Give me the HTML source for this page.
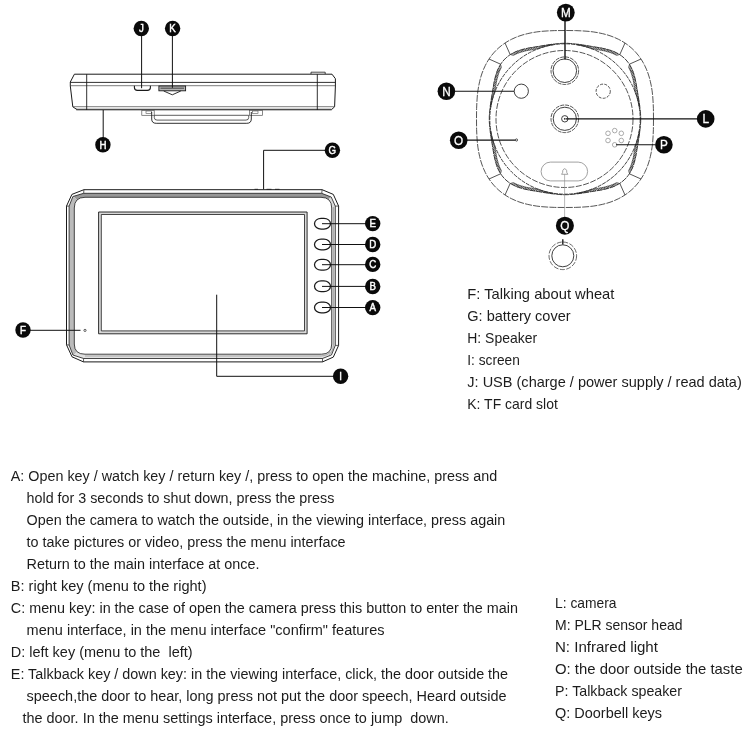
<!DOCTYPE html>
<html><head><meta charset="utf-8"><title>Parts</title>
<style>
html,body{margin:0;padding:0;background:#fff;}
body{width:750px;height:750px;overflow:hidden;}
svg{display:block;filter:grayscale(1);}
text{font-family:"Liberation Sans",sans-serif;fill:#1c1c1c;}
.lg{font-size:12.8px !important;stroke-width:0.3px !important;}
.lb{font-family:"Liberation Sans",sans-serif;font-weight:normal;font-size:10.8px;fill:#fff;stroke:#fff;stroke-width:0.45px;text-anchor:middle;}
</style></head>
<body>
<svg width="750" height="750" viewBox="0 0 750 750">
<rect width="750" height="750" fill="#fff"/>
<g fill="none" stroke="#1a1a1a" stroke-width="0.9">
<path d="M74.4 74.2 L332 74.2 L335.4 78.7 L335.4 86 L334.6 106.8 L331.5 109.6 L77 109.6 L72.8 106.8 L70.3 86 L70.3 82 Z" stroke-width="1" stroke-linejoin="round"/>
<path d="M76 109.5 L331.5 109.5" stroke-width="1.6" stroke="#4a4a4a"/>
<path d="M70.3 82.4 L335.4 82.4" stroke-width="0.9"/>
<path d="M70.5 85.7 L335.4 85.7" stroke-width="0.7" stroke="#444"/>
<path d="M72.8 106.7 L334.6 106.7" stroke-width="0.7" stroke="#444"/>
<path d="M86.7 74.2 L86.7 110" stroke-width="0.9"/>
<path d="M317.3 74.2 L317.3 110" stroke-width="0.9"/>
<path d="M311 74 L311 72.2 L325.2 72.2 L325.2 74" stroke-width="0.8"/>
<path d="M134.4 85.7 L134.4 87.6 Q134.4 90.4 137.4 90.4 L147.4 90.4 Q150.4 90.4 150.4 87.6 L150.4 85.7" stroke-width="1.1"/>
<rect x="158.9" y="86" width="26.7" height="4.8" stroke-width="0.9" fill="#b4b4b4"/>
<path d="M160.5 88.2 L184 88.2" stroke-width="1.2" stroke="#555"/>
<path d="M163.7 91 L172.3 94.8 L180.8 91" stroke-width="0.9"/>
<rect x="141.8" y="110.3" width="12.4" height="5" stroke-width="0.7" stroke="#555"/>
<rect x="146" y="111" width="5.5" height="2.6" stroke-width="0.6" stroke="#555"/>
<rect x="249.6" y="110.3" width="13" height="5" stroke-width="0.7" stroke="#555"/>
<rect x="252.5" y="111" width="5.5" height="2.6" stroke-width="0.6" stroke="#555"/>
<path d="M151.7 112 L151.7 119 Q151.7 123.3 156.2 123.3 L246.8 123.3 Q251.3 123.3 251.3 119 L251.3 112" stroke-width="0.9"/>
<path d="M154.3 115.3 L154.3 117.6 Q154.3 120.1 157 120.1 L246 120.1 Q248.7 120.1 248.7 117.6 L248.7 115.3 Z" stroke-width="0.7"/>
</g>
<g fill="none" stroke="#111" stroke-width="1">
<path d="M141.6 35 L141.6 88.2"/>
<path d="M172.4 35 L172.4 87.8"/>
<path d="M103.2 110 L103.2 139"/>
<path d="M325 150.3 L263.6 150.3 L263.6 189.3"/>
</g>
<circle cx="141.3" cy="28.5" r="7.7" fill="#0a0a0a"/>
<text transform="translate(141.3 32.3) scale(0.9 1)" class="lb">J</text>
<circle cx="172.6" cy="28.5" r="7.7" fill="#0a0a0a"/>
<text transform="translate(172.6 32.3) scale(0.9 1)" class="lb">K</text>
<circle cx="102.9" cy="144.8" r="7.7" fill="#0a0a0a"/>
<text transform="translate(102.9 148.6) scale(0.9 1)" class="lb">H</text>
<circle cx="332.4" cy="150.3" r="7.7" fill="#0a0a0a"/>
<text transform="translate(332.4 154.1) scale(0.9 1)" class="lb">G</text>
<g fill="none" stroke="#1a1a1a" stroke-width="0.9">
</g>
<defs><linearGradient id="bg" x1="0" y1="0" x2="1" y2="1"><stop offset="0" stop-color="#8f8f8f"/><stop offset="0.45" stop-color="#b8b8b8"/><stop offset="0.6" stop-color="#dcdcdc"/><stop offset="1" stop-color="#e6e6e6"/></linearGradient></defs>
<clipPath id="band"><path d="M69.1 206.1 L72.9 196.5 L83.6 193.3 L321.6 193.3 L331.2 197 L335.3 206.1 L335.3 345.4 L331.5 354.9 L322.5 358.5 L83.6 358.5 L72.9 355 L69.1 345 Z M74.3 208 Q74.3 197.3 85 197.3 L321 197.3 Q331.7 197.3 331.7 208 L331.7 344 Q331.7 354.2 321.5 354.2 L85 354.2 Q74.3 354.2 74.3 344 Z" clip-rule="evenodd"/></clipPath>
<g clip-path="url(#band)" stroke="none">
<path d="M66 189 L339 189 L322 206 L83 206 Z" fill="#979797"/>
<path d="M66 189 L83 206 L83 346 L66 363 Z" fill="#bbbbbb"/>
<path d="M339 189 L322 206 L322 346 L339 363 Z" fill="#dcdcdc"/>
<path d="M66 363 L83 346 L322 346 L339 363 Z" fill="#e0e0e0"/>
</g>
<g fill="none" stroke="#1a1a1a" stroke-width="0.9" stroke-linejoin="round">
<path d="M66.5 206.1 L71.9 194.4 L83.9 189.7 L322.1 189.7 L333.3 194.4 L338.6 206.1 L338.6 345.4 L333.3 357.1 L322.5 361.9 L83.5 361.9 L72 356.8 L66.5 344.8 Z" stroke-width="1"/>
<path d="M69.1 206.1 L72.9 196.5 L83.6 193.3 L321.6 193.3 L331.2 197 L335.3 206.1 L335.3 345.4 L331.5 354.9 L322.5 358.5 L83.6 358.5 L72.9 355 L69.1 345 Z" stroke-width="0.8"/>
<path d="M74.3 208 Q74.3 197.3 85 197.3 L321 197.3 Q331.7 197.3 331.7 208 L331.7 344 Q331.7 354.2 321.5 354.2 L85 354.2 Q74.3 354.2 74.3 344 Z" stroke-width="0.8"/>
<path d="M83.9 189.7 L83.7 193.3 M66.5 206.1 L69.1 206.1 M322.1 189.7 L321.8 193.3 M338.6 206.1 L335.3 206.1 M338.6 345.4 L335.3 345.4 M322.5 361.9 L322.5 358.5 M83.5 361.9 L83.6 358.5 M66.5 344.8 L69.1 345" stroke-width="0.7"/>
<path d="M333.4 207 L333.4 345 Q333 352 329 354.5" stroke-width="0.5" stroke="#777"/>
<path d="M85 356 L321 356 Q328 355.5 330 352" stroke-width="0.5" stroke="#777"/>
<rect x="98.6" y="212" width="208.5" height="121.8" stroke-width="0.9" fill="#d8d8d8"/>
<rect x="101.3" y="214.5" width="203.2" height="116.4" stroke-width="0.8" fill="#fff"/>
<rect x="314.5" y="218.3" width="16" height="10.8" rx="6.6" ry="5.4" stroke-width="1.25" fill="#fff"/>
<rect x="314.5" y="239.1" width="16" height="10.8" rx="6.6" ry="5.4" stroke-width="1.25" fill="#fff"/>
<rect x="314.5" y="259.4" width="16" height="10.8" rx="6.6" ry="5.4" stroke-width="1.25" fill="#fff"/>
<rect x="314.5" y="280.9" width="16" height="10.8" rx="6.6" ry="5.4" stroke-width="1.25" fill="#fff"/>
<rect x="314.5" y="302.1" width="16" height="10.8" rx="6.6" ry="5.4" stroke-width="1.25" fill="#fff"/>
<circle cx="85" cy="330.4" r="1.1" stroke-width="0.7"/>
<path d="M254.5 189.3 L258 189.3 M266.5 189.3 L271.5 189.3 M275 189.3 L279.5 189.3" stroke-width="0.8"/>
</g>
<g fill="none" stroke="#111" stroke-width="1">
<path d="M322 223.7 L366 223.7"/>
<path d="M322 244.5 L366 244.5"/>
<path d="M322 264.7 L366 264.7"/>
<path d="M322 286.4 L366 286.4"/>
<path d="M322 307.5 L366 307.5"/>
<path d="M30 330.3 L80.5 330.3"/>
<path d="M216.7 294.7 L216.7 376.3 L334 376.3"/>
</g>
<circle cx="372.7" cy="223.6" r="7.7" fill="#0a0a0a"/>
<text transform="translate(372.7 227.4) scale(0.9 1)" class="lb">E</text>
<circle cx="372.7" cy="244.5" r="7.7" fill="#0a0a0a"/>
<text transform="translate(372.7 248.3) scale(0.9 1)" class="lb">D</text>
<circle cx="372.7" cy="264.4" r="7.7" fill="#0a0a0a"/>
<text transform="translate(372.7 268.2) scale(0.9 1)" class="lb">C</text>
<circle cx="372.7" cy="286.5" r="7.7" fill="#0a0a0a"/>
<text transform="translate(372.7 290.3) scale(0.9 1)" class="lb">B</text>
<circle cx="372.7" cy="307.6" r="7.7" fill="#0a0a0a"/>
<text transform="translate(372.7 311.4) scale(0.9 1)" class="lb">A</text>
<circle cx="23" cy="330" r="7.7" fill="#0a0a0a"/>
<text transform="translate(23 333.8) scale(0.9 1)" class="lb">F</text>
<circle cx="340.6" cy="376.3" r="7.7" fill="#0a0a0a"/>
<text transform="translate(340.6 380.1) scale(0.9 1)" class="lb">I</text>
<g fill="none" stroke="#2a2a2a" stroke-width="0.8">
<path d="M653.5 119.0 L653.4 129.4 L653.1 136.1 L652.7 142.0 L652.1 147.2 L651.3 152.1 L650.3 156.7 L649.2 161.0 L647.9 165.0 L646.4 168.8 L644.7 172.5 L642.9 175.9 L640.9 179.1 L638.7 182.2 L636.3 185.1 L633.8 187.8 L631.1 190.3 L628.2 192.7 L625.1 194.9 L621.9 196.9 L618.5 198.7 L614.8 200.4 L611.0 201.9 L607.0 203.2 L602.7 204.3 L598.1 205.3 L593.2 206.1 L588.0 206.7 L582.1 207.1 L575.4 207.4 L565.0 207.5 L554.6 207.4 L547.9 207.1 L542.0 206.7 L536.8 206.1 L531.9 205.3 L527.3 204.3 L523.0 203.2 L519.0 201.9 L515.2 200.4 L511.5 198.7 L508.1 196.9 L504.9 194.9 L501.8 192.7 L498.9 190.3 L496.2 187.8 L493.7 185.1 L491.3 182.2 L489.1 179.1 L487.1 175.9 L485.3 172.5 L483.6 168.8 L482.1 165.0 L480.8 161.0 L479.7 156.7 L478.7 152.1 L477.9 147.2 L477.3 142.0 L476.9 136.1 L476.6 129.4 L476.5 119.0 L476.6 108.6 L476.9 101.9 L477.3 96.0 L477.9 90.8 L478.7 85.9 L479.7 81.3 L480.8 77.0 L482.1 73.0 L483.6 69.2 L485.3 65.5 L487.1 62.1 L489.1 58.9 L491.3 55.8 L493.7 52.9 L496.2 50.2 L498.9 47.7 L501.8 45.3 L504.9 43.1 L508.1 41.1 L511.5 39.3 L515.2 37.6 L519.0 36.1 L523.0 34.8 L527.3 33.7 L531.9 32.7 L536.8 31.9 L542.0 31.3 L547.9 30.9 L554.6 30.6 L565.0 30.5 L575.4 30.6 L582.1 30.9 L588.0 31.3 L593.2 31.9 L598.1 32.7 L602.7 33.7 L607.0 34.8 L611.0 36.1 L614.8 37.6 L618.5 39.3 L621.9 41.1 L625.1 43.1 L628.2 45.3 L631.1 47.7 L633.8 50.2 L636.3 52.9 L638.7 55.8 L640.9 58.9 L642.9 62.1 L644.7 65.5 L646.4 69.2 L647.9 73.0 L649.2 77.0 L650.3 81.3 L651.3 85.9 L652.1 90.8 L652.7 96.0 L653.1 101.9 L653.4 108.6 Z" stroke-dasharray="7 1.2"/>
<path d="M640.7 119.0 L640.7 121.6 L640.5 124.3 L640.3 126.9 L640.0 129.5 L639.7 132.2 L639.3 134.8 L638.9 137.4 L638.5 140.1 L638.1 142.7 L637.6 145.4 L637.2 148.2 L636.7 150.9 L636.3 153.8 L635.7 156.6 L635.1 159.5 L634.3 162.3 L633.5 165.2 L632.4 168.0 L631.1 170.7 L629.7 173.3 L628.0 175.7 L626.1 178.0 L624.0 180.1 L621.7 182.0 L619.3 183.7 L616.7 185.1 L614.0 186.4 L611.2 187.5 L608.3 188.3 L605.5 189.1 L602.6 189.7 L599.8 190.3 L596.9 190.7 L594.2 191.2 L591.4 191.6 L588.7 192.1 L586.1 192.5 L583.4 192.9 L580.8 193.3 L578.2 193.7 L575.5 194.0 L572.9 194.3 L570.3 194.5 L567.6 194.7 L565.0 194.7 L562.4 194.7 L559.7 194.5 L557.1 194.3 L554.5 194.0 L551.8 193.7 L549.2 193.3 L546.6 192.9 L543.9 192.5 L541.3 192.1 L538.6 191.6 L535.8 191.2 L533.1 190.7 L530.2 190.3 L527.4 189.7 L524.5 189.1 L521.7 188.3 L518.8 187.5 L516.0 186.4 L513.3 185.1 L510.7 183.7 L508.3 182.0 L506.0 180.1 L503.9 178.0 L502.0 175.7 L500.3 173.3 L498.9 170.7 L497.6 168.0 L496.5 165.2 L495.7 162.3 L494.9 159.5 L494.3 156.6 L493.7 153.8 L493.3 150.9 L492.8 148.2 L492.4 145.4 L491.9 142.7 L491.5 140.1 L491.1 137.4 L490.7 134.8 L490.3 132.2 L490.0 129.5 L489.7 126.9 L489.5 124.3 L489.3 121.6 L489.3 119.0 L489.3 116.4 L489.5 113.7 L489.7 111.1 L490.0 108.5 L490.3 105.8 L490.7 103.2 L491.1 100.6 L491.5 97.9 L491.9 95.3 L492.4 92.6 L492.8 89.8 L493.3 87.1 L493.7 84.2 L494.3 81.4 L494.9 78.5 L495.7 75.7 L496.5 72.8 L497.6 70.0 L498.9 67.3 L500.3 64.7 L502.0 62.3 L503.9 60.0 L506.0 57.9 L508.3 56.0 L510.7 54.3 L513.3 52.9 L516.0 51.6 L518.8 50.5 L521.7 49.7 L524.5 48.9 L527.4 48.3 L530.2 47.7 L533.1 47.3 L535.8 46.8 L538.6 46.4 L541.3 45.9 L543.9 45.5 L546.6 45.1 L549.2 44.7 L551.8 44.3 L554.5 44.0 L557.1 43.7 L559.7 43.5 L562.4 43.3 L565.0 43.3 L567.6 43.3 L570.3 43.5 L572.9 43.7 L575.5 44.0 L578.2 44.3 L580.8 44.7 L583.4 45.1 L586.1 45.5 L588.7 45.9 L591.4 46.4 L594.2 46.8 L596.9 47.3 L599.8 47.7 L602.6 48.3 L605.5 48.9 L608.3 49.7 L611.2 50.5 L614.0 51.6 L616.7 52.9 L619.3 54.3 L621.7 56.0 L624.0 57.9 L626.1 60.0 L628.0 62.3 L629.7 64.7 L631.1 67.3 L632.4 70.0 L633.5 72.8 L634.3 75.7 L635.1 78.5 L635.7 81.4 L636.3 84.2 L636.7 87.1 L637.2 89.8 L637.6 92.6 L638.1 95.3 L638.5 97.9 L638.9 100.6 L639.3 103.2 L639.7 105.8 L640.0 108.5 L640.3 111.1 L640.5 113.7 L640.7 116.4 Z" stroke-dasharray="6 0.8" stroke-width="0.9"/>
<circle cx="565" cy="119" r="75.2" stroke-dasharray="4 1" stroke-width="0.9"/>
<circle cx="564.5" cy="119" r="68.5" stroke-dasharray="6 1.5"/>
<path d="M639.3 107.2 L639.0 105.6 L638.7 103.9 L638.3 102.2 L637.9 100.6 L637.5 98.9 L637.0 97.3 L636.5 95.6 L635.9 94.0 L635.3 92.4 L635.1 90.7 L634.8 88.9 L634.5 87.2 L634.2 85.4 L633.9 83.6 L633.5 81.8 L633.2 80.0 L632.7 78.1 L632.2 76.3 L631.7 74.5 L631.1 72.7 L630.4 71.0 L629.6 69.3 L628.7 67.6" stroke-width="0.6"/>
<path d="M639.3 130.8 L639.0 132.4 L638.7 134.1 L638.3 135.8 L637.9 137.4 L637.5 139.1 L637.0 140.7 L636.5 142.4 L635.9 144.0 L635.3 145.6 L635.1 147.3 L634.8 149.1 L634.5 150.8 L634.2 152.6 L633.9 154.4 L633.5 156.2 L633.2 158.0 L632.7 159.9 L632.2 161.7 L631.7 163.5 L631.1 165.3 L630.4 167.0 L629.6 168.7 L628.7 170.4" stroke-width="0.6"/>
<path d="M576.8 193.3 L578.4 193.0 L580.1 192.7 L581.8 192.3 L583.4 191.9 L585.1 191.5 L586.7 191.0 L588.4 190.5 L590.0 189.9 L591.6 189.3 L593.3 189.1 L595.1 188.8 L596.8 188.5 L598.6 188.2 L600.4 187.9 L602.2 187.5 L604.0 187.2 L605.9 186.7 L607.7 186.2 L609.5 185.7 L611.3 185.1 L613.0 184.4 L614.7 183.6 L616.4 182.7" stroke-width="0.6"/>
<path d="M553.2 193.3 L551.6 193.0 L549.9 192.7 L548.2 192.3 L546.6 191.9 L544.9 191.5 L543.3 191.0 L541.6 190.5 L540.0 189.9 L538.4 189.3 L536.7 189.1 L534.9 188.8 L533.2 188.5 L531.4 188.2 L529.6 187.9 L527.8 187.5 L526.0 187.2 L524.1 186.7 L522.3 186.2 L520.5 185.7 L518.7 185.1 L517.0 184.4 L515.3 183.6 L513.6 182.7" stroke-width="0.6"/>
<path d="M490.7 130.8 L491.0 132.4 L491.3 134.1 L491.7 135.8 L492.1 137.4 L492.5 139.1 L493.0 140.7 L493.5 142.4 L494.1 144.0 L494.7 145.6 L494.9 147.3 L495.2 149.1 L495.5 150.8 L495.8 152.6 L496.1 154.4 L496.5 156.2 L496.8 158.0 L497.3 159.9 L497.8 161.7 L498.3 163.5 L498.9 165.3 L499.6 167.0 L500.4 168.7 L501.3 170.4" stroke-width="0.6"/>
<path d="M490.7 107.2 L491.0 105.6 L491.3 103.9 L491.7 102.2 L492.1 100.6 L492.5 98.9 L493.0 97.3 L493.5 95.6 L494.1 94.0 L494.7 92.4 L494.9 90.7 L495.2 88.9 L495.5 87.2 L495.8 85.4 L496.1 83.6 L496.5 81.8 L496.8 80.0 L497.3 78.1 L497.8 76.3 L498.3 74.5 L498.9 72.7 L499.6 71.0 L500.4 69.3 L501.3 67.6" stroke-width="0.6"/>
<path d="M553.2 44.7 L551.6 45.0 L549.9 45.3 L548.2 45.7 L546.6 46.1 L544.9 46.5 L543.3 47.0 L541.6 47.5 L540.0 48.1 L538.4 48.7 L536.7 48.9 L534.9 49.2 L533.2 49.5 L531.4 49.8 L529.6 50.1 L527.8 50.5 L526.0 50.8 L524.1 51.3 L522.3 51.8 L520.5 52.3 L518.7 52.9 L517.0 53.6 L515.3 54.4 L513.6 55.3" stroke-width="0.6"/>
<path d="M576.8 44.7 L578.4 45.0 L580.1 45.3 L581.8 45.7 L583.4 46.1 L585.1 46.5 L586.7 47.0 L588.4 47.5 L590.0 48.1 L591.6 48.7 L593.3 48.9 L595.1 49.2 L596.8 49.5 L598.6 49.8 L600.4 50.1 L602.2 50.5 L604.0 50.8 L605.9 51.3 L607.7 51.8 L609.5 52.3 L611.3 52.9 L613.0 53.6 L614.7 54.4 L616.4 55.3" stroke-width="0.6"/>
<path d="M639.3 107.2 L639.6 105.3 M639.0 105.6 L639.4 103.6 M638.7 103.9 L639.1 101.9 M638.3 102.2 L638.8 100.2 M637.9 100.6 L638.6 98.5 M637.5 98.9 L638.3 96.7 M637.0 97.3 L638.0 95.0 M636.5 95.6 L637.7 93.2 M635.9 94.0 L637.5 91.5 M635.3 92.4 L637.2 89.7 M635.1 90.7 L636.9 87.9 M634.8 88.9 L636.6 86.1 M634.5 87.2 L636.3 84.2 M634.2 85.4 L635.9 82.4 M633.9 83.6 L635.5 80.5 M633.5 81.8 L635.1 78.7 M633.2 80.0 L634.7 76.8 M632.7 78.1 L634.1 75.0 M632.2 76.3 L633.6 73.1 M631.7 74.5 L632.9 71.3 M631.1 72.7 L632.2 69.5 M630.4 71.0 L631.3 67.7 M629.6 69.3 L630.4 66.0 M628.7 67.6 L629.5 64.3 M639.3 130.8 L639.6 132.7 M639.0 132.4 L639.4 134.4 M638.7 134.1 L639.1 136.1 M638.3 135.8 L638.8 137.8 M637.9 137.4 L638.6 139.5 M637.5 139.1 L638.3 141.3 M637.0 140.7 L638.0 143.0 M636.5 142.4 L637.7 144.8 M635.9 144.0 L637.5 146.5 M635.3 145.6 L637.2 148.3 M635.1 147.3 L636.9 150.1 M634.8 149.1 L636.6 151.9 M634.5 150.8 L636.3 153.8 M634.2 152.6 L635.9 155.6 M633.9 154.4 L635.5 157.5 M633.5 156.2 L635.1 159.3 M633.2 158.0 L634.7 161.2 M632.7 159.9 L634.1 163.0 M632.2 161.7 L633.6 164.9 M631.7 163.5 L632.9 166.7 M631.1 165.3 L632.2 168.5 M630.4 167.0 L631.3 170.3 M629.6 168.7 L630.4 172.0 M628.7 170.4 L629.5 173.7 M576.8 193.3 L578.7 193.6 M578.4 193.0 L580.4 193.4 M580.1 192.7 L582.1 193.1 M581.8 192.3 L583.8 192.8 M583.4 191.9 L585.5 192.6 M585.1 191.5 L587.3 192.3 M586.7 191.0 L589.0 192.0 M588.4 190.5 L590.8 191.7 M590.0 189.9 L592.5 191.5 M591.6 189.3 L594.3 191.2 M593.3 189.1 L596.1 190.9 M595.1 188.8 L597.9 190.6 M596.8 188.5 L599.8 190.3 M598.6 188.2 L601.6 189.9 M600.4 187.9 L603.5 189.5 M602.2 187.5 L605.3 189.1 M604.0 187.2 L607.2 188.7 M605.9 186.7 L609.0 188.1 M607.7 186.2 L610.9 187.6 M609.5 185.7 L612.7 186.9 M611.3 185.1 L614.5 186.2 M613.0 184.4 L616.3 185.3 M614.7 183.6 L618.0 184.4 M616.4 182.7 L619.7 183.5 M553.2 193.3 L551.3 193.6 M551.6 193.0 L549.6 193.4 M549.9 192.7 L547.9 193.1 M548.2 192.3 L546.2 192.8 M546.6 191.9 L544.5 192.6 M544.9 191.5 L542.7 192.3 M543.3 191.0 L541.0 192.0 M541.6 190.5 L539.2 191.7 M540.0 189.9 L537.5 191.5 M538.4 189.3 L535.7 191.2 M536.7 189.1 L533.9 190.9 M534.9 188.8 L532.1 190.6 M533.2 188.5 L530.2 190.3 M531.4 188.2 L528.4 189.9 M529.6 187.9 L526.5 189.5 M527.8 187.5 L524.7 189.1 M526.0 187.2 L522.8 188.7 M524.1 186.7 L521.0 188.1 M522.3 186.2 L519.1 187.6 M520.5 185.7 L517.3 186.9 M518.7 185.1 L515.5 186.2 M517.0 184.4 L513.7 185.3 M515.3 183.6 L512.0 184.4 M513.6 182.7 L510.3 183.5 M490.7 130.8 L490.4 132.7 M491.0 132.4 L490.6 134.4 M491.3 134.1 L490.9 136.1 M491.7 135.8 L491.2 137.8 M492.1 137.4 L491.4 139.5 M492.5 139.1 L491.7 141.3 M493.0 140.7 L492.0 143.0 M493.5 142.4 L492.3 144.8 M494.1 144.0 L492.5 146.5 M494.7 145.6 L492.8 148.3 M494.9 147.3 L493.1 150.1 M495.2 149.1 L493.4 151.9 M495.5 150.8 L493.7 153.8 M495.8 152.6 L494.1 155.6 M496.1 154.4 L494.5 157.5 M496.5 156.2 L494.9 159.3 M496.8 158.0 L495.3 161.2 M497.3 159.9 L495.9 163.0 M497.8 161.7 L496.4 164.9 M498.3 163.5 L497.1 166.7 M498.9 165.3 L497.8 168.5 M499.6 167.0 L498.7 170.3 M500.4 168.7 L499.6 172.0 M501.3 170.4 L500.5 173.7 M490.7 107.2 L490.4 105.3 M491.0 105.6 L490.6 103.6 M491.3 103.9 L490.9 101.9 M491.7 102.2 L491.2 100.2 M492.1 100.6 L491.4 98.5 M492.5 98.9 L491.7 96.7 M493.0 97.3 L492.0 95.0 M493.5 95.6 L492.3 93.2 M494.1 94.0 L492.5 91.5 M494.7 92.4 L492.8 89.7 M494.9 90.7 L493.1 87.9 M495.2 88.9 L493.4 86.1 M495.5 87.2 L493.7 84.2 M495.8 85.4 L494.1 82.4 M496.1 83.6 L494.5 80.5 M496.5 81.8 L494.9 78.7 M496.8 80.0 L495.3 76.8 M497.3 78.1 L495.9 75.0 M497.8 76.3 L496.4 73.1 M498.3 74.5 L497.1 71.3 M498.9 72.7 L497.8 69.5 M499.6 71.0 L498.7 67.7 M500.4 69.3 L499.6 66.0 M501.3 67.6 L500.5 64.3 M553.2 44.7 L551.3 44.4 M551.6 45.0 L549.6 44.6 M549.9 45.3 L547.9 44.9 M548.2 45.7 L546.2 45.2 M546.6 46.1 L544.5 45.4 M544.9 46.5 L542.7 45.7 M543.3 47.0 L541.0 46.0 M541.6 47.5 L539.2 46.3 M540.0 48.1 L537.5 46.5 M538.4 48.7 L535.7 46.8 M536.7 48.9 L533.9 47.1 M534.9 49.2 L532.1 47.4 M533.2 49.5 L530.2 47.7 M531.4 49.8 L528.4 48.1 M529.6 50.1 L526.5 48.5 M527.8 50.5 L524.7 48.9 M526.0 50.8 L522.8 49.3 M524.1 51.3 L521.0 49.9 M522.3 51.8 L519.1 50.4 M520.5 52.3 L517.3 51.1 M518.7 52.9 L515.5 51.8 M517.0 53.6 L513.7 52.7 M515.3 54.4 L512.0 53.6 M513.6 55.3 L510.3 54.5 M576.8 44.7 L578.7 44.4 M578.4 45.0 L580.4 44.6 M580.1 45.3 L582.1 44.9 M581.8 45.7 L583.8 45.2 M583.4 46.1 L585.5 45.4 M585.1 46.5 L587.3 45.7 M586.7 47.0 L589.0 46.0 M588.4 47.5 L590.8 46.3 M590.0 48.1 L592.5 46.5 M591.6 48.7 L594.3 46.8 M593.3 48.9 L596.1 47.1 M595.1 49.2 L597.9 47.4 M596.8 49.5 L599.8 47.7 M598.6 49.8 L601.6 48.1 M600.4 50.1 L603.5 48.5 M602.2 50.5 L605.3 48.9 M604.0 50.8 L607.2 49.3 M605.9 51.3 L609.0 49.9 M607.7 51.8 L610.9 50.4 M609.5 52.3 L612.7 51.1 M611.3 52.9 L614.5 51.8 M613.0 53.6 L616.3 52.7 M614.7 54.4 L618.0 53.6 M616.4 55.3 L619.7 54.5" stroke-width="0.8"/>
<path d="M641.0 179.0 L629.4 173.8" stroke-width="0.8"/>
<path d="M625.0 195.0 L619.8 183.4" stroke-width="0.8"/>
<path d="M505.0 195.0 L510.2 183.4" stroke-width="0.8"/>
<path d="M489.0 179.0 L500.6 173.8" stroke-width="0.8"/>
<path d="M489.0 59.0 L500.6 64.2" stroke-width="0.8"/>
<path d="M505.0 43.0 L510.2 54.6" stroke-width="0.8"/>
<path d="M625.0 43.0 L619.8 54.6" stroke-width="0.8"/>
<path d="M641.0 59.0 L629.4 64.2" stroke-width="0.8"/>
<circle cx="564.8" cy="70.7" r="13.8" stroke-dasharray="4 1"/>
<circle cx="564.8" cy="70.7" r="11.8" stroke-width="0.9"/>
<circle cx="564.8" cy="118.8" r="13.8" stroke-dasharray="4 1"/>
<circle cx="564.8" cy="118.8" r="11.6" stroke-width="0.9"/>
<circle cx="564.8" cy="118.8" r="3.2" stroke-width="0.9"/>
<circle cx="564.8" cy="118.8" r="0.9" fill="#222" stroke="none"/>
<circle cx="521.3" cy="91.2" r="7.1" stroke-width="0.9"/>
<circle cx="603.2" cy="91.2" r="7.1" stroke-dasharray="3 1.3"/>
<circle cx="516.5" cy="140" r="1.1" stroke-width="0.8"/>
<circle cx="608" cy="133.3" r="2.3" stroke="#888" stroke-width="0.7"/>
<circle cx="614.7" cy="130.6" r="2.3" stroke="#888" stroke-width="0.7"/>
<circle cx="621.3" cy="133.3" r="2.3" stroke="#888" stroke-width="0.7"/>
<circle cx="608" cy="140.5" r="2.3" stroke="#888" stroke-width="0.7"/>
<circle cx="621.3" cy="140.5" r="2.3" stroke="#888" stroke-width="0.7"/>
<circle cx="614.7" cy="144.8" r="2.3" stroke="#888" stroke-width="0.7"/>
<rect x="541.1" y="162.1" width="46.5" height="18.8" rx="9.4" stroke="#8a8a8a" stroke-width="0.8"/>
<path d="M561.6 174.3 L567.8 174.3 L566.8 172.6 L566.6 170.4 Q564.7 167 562.8 170.4 L562.6 172.6 Z" stroke="#666" stroke-width="0.6"/>
<path d="M564.6 174.5 L564.6 217" stroke="#888" stroke-width="0.6"/>
<circle cx="562.8" cy="255.8" r="13.8" stroke-dasharray="5 1.5" stroke-width="0.7"/>
<circle cx="562.8" cy="255.8" r="11" stroke-width="0.9"/>
<path d="M562.8 239.3 L562.8 244.6" stroke-width="1.3" stroke="#111"/>
</g>
<g fill="none" stroke="#111" stroke-width="1">
<path d="M565 20 L565 59.5" stroke-width="1.4"/>
<path d="M455 91.2 L514 91.2" stroke-width="1.1"/>
<path d="M467 140.1 L515.4 140.1" stroke-width="1.1"/>
<path d="M566 118.9 L697 118.9" stroke-width="1.1"/>
<path d="M616 144.7 L655 144.7" stroke-width="1.1"/>
</g>
<circle cx="565.8" cy="12.6" r="8.9" fill="#0a0a0a"/>
<text transform="translate(565.8 17.1) scale(0.92 1)" class="lb lg">M</text>
<circle cx="446.4" cy="91.3" r="8.8" fill="#0a0a0a"/>
<text transform="translate(446.4 95.8) scale(0.92 1)" class="lb lg">N</text>
<circle cx="458.7" cy="140.3" r="8.8" fill="#0a0a0a"/>
<text transform="translate(458.7 144.8) scale(0.92 1)" class="lb lg">O</text>
<circle cx="705.7" cy="118.9" r="8.8" fill="#0a0a0a"/>
<text transform="translate(705.7 123.4) scale(0.92 1)" class="lb lg">L</text>
<circle cx="663.9" cy="144.7" r="8.8" fill="#0a0a0a"/>
<text transform="translate(663.9 149.2) scale(0.92 1)" class="lb lg">P</text>
<circle cx="564.9" cy="225.7" r="9" fill="#0a0a0a"/>
<text transform="translate(564.9 230.2) scale(0.92 1)" class="lb lg">Q</text>
<g>
<text x="10.8" y="480.8" font-size="14" textLength="486.4" lengthAdjust="spacingAndGlyphs" xml:space="preserve">A: Open key / watch key / return key /, press to open the machine, press and</text>
<text x="26.6" y="502.8" font-size="14" textLength="307.7" lengthAdjust="spacingAndGlyphs" xml:space="preserve">hold for 3 seconds to shut down, press the press</text>
<text x="26.6" y="524.8" font-size="14" textLength="478.7" lengthAdjust="spacingAndGlyphs" xml:space="preserve">Open the camera to watch the outside, in the viewing interface, press again</text>
<text x="26.6" y="546.8" font-size="14" textLength="319.0" lengthAdjust="spacingAndGlyphs" xml:space="preserve">to take pictures or video, press the menu interface</text>
<text x="26.6" y="568.8" font-size="14" textLength="232.8" lengthAdjust="spacingAndGlyphs" xml:space="preserve">Return to the main interface at once.</text>
<text x="10.8" y="590.8" font-size="14" textLength="195.7" lengthAdjust="spacingAndGlyphs" xml:space="preserve">B: right key (menu to the right)</text>
<text x="10.8" y="612.8" font-size="14" textLength="507.2" lengthAdjust="spacingAndGlyphs" xml:space="preserve">C: menu key: in the case of open the camera press this button to enter the main</text>
<text x="26.6" y="634.8" font-size="14" textLength="357.9" lengthAdjust="spacingAndGlyphs" xml:space="preserve">menu interface, in the menu interface "confirm" features</text>
<text x="10.8" y="656.8" font-size="14" textLength="181.8" lengthAdjust="spacingAndGlyphs" xml:space="preserve">D: left key (menu to the  left)</text>
<text x="10.8" y="678.8" font-size="14" textLength="497.3" lengthAdjust="spacingAndGlyphs" xml:space="preserve">E: Talkback key / down key: in the viewing interface, click, the door outside the</text>
<text x="26.6" y="700.8" font-size="14" textLength="479.9" lengthAdjust="spacingAndGlyphs" xml:space="preserve">speech,the door to hear, long press not put the door speech, Heard outside</text>
<text x="22.4" y="722.8" font-size="14" textLength="426.4" lengthAdjust="spacingAndGlyphs" xml:space="preserve">the door. In the menu settings interface, press once to jump  down.</text>
<text x="467.3" y="299.1" font-size="15" textLength="147.1" lengthAdjust="spacingAndGlyphs" xml:space="preserve">F: Talking about wheat</text>
<text x="467.3" y="321.1" font-size="15" textLength="103.3" lengthAdjust="spacingAndGlyphs" xml:space="preserve">G: battery cover</text>
<text x="467.3" y="343.2" font-size="15" textLength="69.8" lengthAdjust="spacingAndGlyphs" xml:space="preserve">H: Speaker</text>
<text x="467.3" y="365.2" font-size="15" textLength="52.5" lengthAdjust="spacingAndGlyphs" xml:space="preserve">I: screen</text>
<text x="467.3" y="387.3" font-size="15" textLength="274.5" lengthAdjust="spacingAndGlyphs" xml:space="preserve">J: USB (charge / power supply / read data)</text>
<text x="467.3" y="409.3" font-size="15" textLength="90.5" lengthAdjust="spacingAndGlyphs" xml:space="preserve">K: TF card slot</text>
<text x="555" y="607.5" font-size="15" textLength="61.5" lengthAdjust="spacingAndGlyphs" xml:space="preserve">L: camera</text>
<text x="555" y="629.5" font-size="15" textLength="127.5" lengthAdjust="spacingAndGlyphs" xml:space="preserve">M: PLR sensor head</text>
<text x="555" y="651.5" font-size="15" textLength="102.9" lengthAdjust="spacingAndGlyphs" xml:space="preserve">N: Infrared light</text>
<text x="555" y="673.5" font-size="15" textLength="187.7" lengthAdjust="spacingAndGlyphs" xml:space="preserve">O: the door outside the taste</text>
<text x="555" y="695.5" font-size="15" textLength="127.0" lengthAdjust="spacingAndGlyphs" xml:space="preserve">P: Talkback speaker</text>
<text x="555" y="717.5" font-size="15" textLength="107.0" lengthAdjust="spacingAndGlyphs" xml:space="preserve">Q: Doorbell keys</text>
</g>
</svg>
</body></html>
